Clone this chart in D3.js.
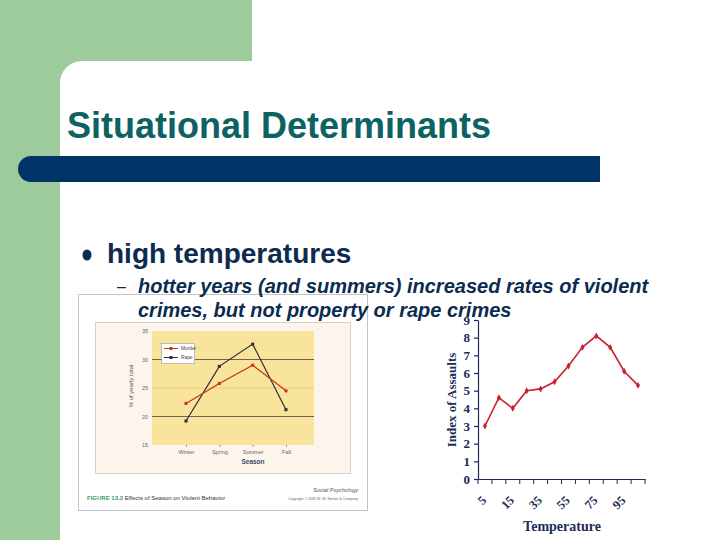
<!DOCTYPE html>
<html lang="en">
<head>
<meta charset="utf-8">
<style>
  body { margin: 0; background: #fff; }
  svg { display: block; }
</style>
</head>
<body>
<script src="https://d3js.org/d3.v7.min.js"></script>
<script>
// left chart: seasons
var seasons = ["Winter", "Spring", "Summer", "Fall"];
var murder = [22.3, 25.8, 29.0, 24.5];
var rape = [19.2, 28.8, 32.7, 21.2];
var seasonTicks = [15, 20, 25, 30, 35];

// right chart: temperature
var tempLabels = ["5", "", "15", "", "35", "", "55", "", "75", "", "95", ""];
var assaults = [3.0, 4.6, 4.0, 5.0, 5.1, 5.5, 6.4, 7.45, 8.1, 7.45, 6.1, 5.3];
var assaultTicks = [0, 1, 2, 3, 4, 5, 6, 7, 8, 9];

var width = 720, height = 540;
var svg = d3.select("body").append("svg")
  .attr("width", width).attr("height", height);

// slide background
svg.append("rect").attr("x", 0).attr("y", 0).attr("width", 252).attr("height", 80).attr("fill", "#9ecb9c");
svg.append("rect").attr("x", 0).attr("y", 0).attr("width", 60).attr("height", height).attr("fill", "#9ecb9c");
svg.append("rect").attr("x", 60).attr("y", 61).attr("width", 700).attr("height", 520)
  .attr("rx", 22).attr("fill", "#fff");
// navy bar
svg.append("rect").attr("x", 18).attr("y", 156).attr("width", 60).attr("height", 26)
  .attr("rx", 13).attr("fill", "#003366");
svg.append("rect").attr("x", 40).attr("y", 156).attr("width", 560).attr("height", 26)
  .attr("fill", "#003366");

// ---------- left chart (figure image) ----------
var L = svg.append("g");
L.append("rect").attr("x", 78.5).attr("y", 294.5).attr("width", 289).attr("height", 216)
  .attr("fill", "#fff").attr("stroke", "#c4c4c4");
L.append("rect").attr("x", 95.5).attr("y", 322.5).attr("width", 255).attr("height", 151)
  .attr("fill", "#fdf5eb").attr("stroke", "#d9cfc2");
L.append("rect").attr("x", 152).attr("y", 331).attr("width", 162).attr("height", 114)
  .attr("fill", "#f9e49c");

var xs = d3.scalePoint().domain(seasons).range([186, 286]);
var ys = d3.scaleLinear().domain([15, 35]).range([445, 331]);

L.selectAll(".grid").data([20, 25, 30]).join("line")
  .attr("x1", 152).attr("x2", 314)
  .attr("y1", function (d) { return ys(d); }).attr("y2", function (d) { return ys(d); })
  .attr("stroke", function (d) { return d == 25 ? "#e3cc80" : "#5c5446"; })
  .attr("stroke-width", 0.9);

var ya = L.append("g").attr("transform", "translate(152,0)")
  .call(d3.axisLeft(ys).tickValues(seasonTicks).tickSize(0).tickPadding(4));
ya.select(".domain").remove();
ya.selectAll("text").attr("font-family", "Liberation Sans").attr("font-size", 5.5).attr("fill", "#666");

var xa = L.append("g").attr("transform", "translate(0,445)")
  .call(d3.axisBottom(xs).tickSize(2).tickPadding(3));
xa.select(".domain").remove();
xa.selectAll("line").attr("stroke", "#999");
xa.selectAll("text").attr("font-family", "Liberation Sans").attr("font-size", 5.5).attr("fill", "#666");

L.append("text").attr("x", 253).attr("y", 464).attr("text-anchor", "middle")
  .attr("font-family", "Liberation Sans").attr("font-weight", "bold").attr("font-size", 6.5)
  .attr("fill", "#3a4a6a").text("Season");
L.append("text").attr("transform", "translate(133,386) rotate(-90)").attr("text-anchor", "middle")
  .attr("font-family", "Liberation Sans").attr("font-size", 6).attr("fill", "#4a5670")
  .text("% of yearly total");

var line = d3.line()
  .x(function (d, i) { return xs(seasons[i]); })
  .y(function (d) { return ys(d); });

[[rape, "#2b2b3a"], [murder, "#c8321e"]].forEach(function (s) {
  L.append("path").datum(s[0]).attr("d", line).attr("fill", "none")
    .attr("stroke", s[1]).attr("stroke-width", 1.2);
  L.selectAll(null).data(s[0]).join("rect")
    .attr("x", function (d, i) { return xs(seasons[i]) - 1.5; })
    .attr("y", function (d) { return ys(d) - 1.5; })
    .attr("width", 3).attr("height", 3).attr("fill", s[1]);
});

// legend
L.append("rect").attr("x", 161.5).attr("y", 343.5).attr("width", 33).attr("height", 20)
  .attr("fill", "#fff").attr("stroke", "#9a9a9a").attr("stroke-width", 0.6);
[["Murder", "#c8321e", 348.5], ["Rape", "#2b2b3a", 357.5]].forEach(function (s) {
  L.append("line").attr("x1", 164).attr("x2", 178).attr("y1", s[2]).attr("y2", s[2])
    .attr("stroke", s[1]).attr("stroke-width", 1);
  L.append("rect").attr("x", 169.5).attr("y", s[2] - 1.5).attr("width", 3).attr("height", 3).attr("fill", s[1]);
  L.append("text").attr("x", 181).attr("y", s[2] + 1.8)
    .attr("font-family", "Liberation Sans").attr("font-size", 4.8).attr("fill", "#444").text(s[0]);
});

// caption
var cap = L.append("text").attr("x", 87).attr("y", 500)
  .attr("font-family", "Liberation Sans").attr("font-size", 6);
cap.append("tspan").attr("fill", "#3c9a62").attr("font-weight", "bold").text("FIGURE 13.2 ");
cap.append("tspan").attr("fill", "#333").text("Effects of Season on Violent Behavior");
L.append("text").attr("x", 358).attr("y", 492).attr("text-anchor", "end")
  .attr("font-family", "Liberation Sans").attr("font-style", "italic").attr("font-size", 5.5)
  .attr("fill", "#555").text("Social Psychology");
L.append("text").attr("x", 358).attr("y", 500).attr("text-anchor", "end")
  .attr("font-family", "Liberation Sans").attr("font-size", 3.6)
  .attr("fill", "#666").text("Copyright \u00A9 2005 W. W. Norton & Company");

// ---------- right chart ----------
var R = svg.append("g");
var navy = "#1c2b55";
var xb = d3.scaleBand().domain(d3.range(assaults.length)).range([478, 645]);
var yb = d3.scaleLinear().domain([0, 9]).range([479, 320]);

var ra = R.append("g").attr("transform", "translate(478,0)")
  .call(d3.axisLeft(yb).tickValues(assaultTicks).tickFormat(d3.format("d")).tickSize(4).tickSizeOuter(0).tickPadding(4));
ra.selectAll("path,line").attr("stroke", navy).attr("stroke-width", 1.2);
ra.selectAll("text").attr("font-family", "Liberation Serif").attr("font-weight", "bold")
  .attr("font-size", 13).attr("fill", navy);

var rb = R.append("g").attr("transform", "translate(0,479)")
  .call(d3.axisBottom(xb).tickSize(0).tickFormat(""));
rb.select(".domain").attr("stroke", navy).attr("stroke-width", 1.2);
rb.selectAll(".tick").remove();
R.selectAll(".xt").data(d3.range(assaults.length + 1)).join("line")
  .attr("x1", function (d) { return 478 + d * xb.step(); })
  .attr("x2", function (d) { return 478 + d * xb.step(); })
  .attr("y1", 479).attr("y2", 484)
  .attr("stroke", navy).attr("stroke-width", 1);
R.selectAll(".xl").data(tempLabels).join("text")
  .attr("transform", function (d, i) {
    return "translate(" + (xb(i) + xb.bandwidth() / 2 - 4) + ",495) rotate(-45)";
  })
  .attr("text-anchor", "end").attr("dy", "0.7em")
  .attr("font-family", "Liberation Serif").attr("font-weight", "bold")
  .attr("font-size", 12.5).attr("fill", navy).text(function (d) { return d; });

R.append("text").attr("x", 562).attr("y", 531).attr("text-anchor", "middle")
  .attr("font-family", "Liberation Serif").attr("font-weight", "bold").attr("font-size", 14)
  .attr("fill", navy).text("Temperature");
R.append("text").attr("transform", "translate(456,400) rotate(-90)").attr("text-anchor", "middle")
  .attr("font-family", "Liberation Serif").attr("font-weight", "bold").attr("font-size", 13)
  .attr("fill", navy).text("Index of Assaults");

var rl = d3.line()
  .x(function (d, i) { return xb(i) + xb.bandwidth() / 2; })
  .y(function (d) { return yb(d); });
R.append("path").datum(assaults).attr("d", rl).attr("fill", "none")
  .attr("stroke", "#c8202e").attr("stroke-width", 1.6);
R.selectAll(".pt").data(assaults).join("path")
  .attr("d", d3.symbol(d3.symbolDiamond, 14))
  .attr("transform", function (d, i) {
    return "translate(" + (xb(i) + xb.bandwidth() / 2) + "," + yb(d) + ")";
  })
  .attr("fill", "#c8202e");

// ---------- slide text ----------
svg.append("text").attr("x", 67).attr("y", 138)
  .attr("font-family", "Liberation Sans").attr("font-weight", "bold").attr("font-size", 36)
  .attr("fill", "#0d6262").text("Situational Determinants");
svg.append("ellipse").attr("cx", 87).attr("cy", 255).attr("rx", 4.5).attr("ry", 5.5).attr("fill", "#0c2b50");
svg.append("text").attr("x", 107).attr("y", 263)
  .attr("font-family", "Liberation Sans").attr("font-weight", "bold").attr("font-size", 28)
  .attr("fill", "#0c2b50").text("high temperatures");
svg.append("text").attr("x", 117).attr("y", 292)
  .attr("font-family", "Liberation Sans").attr("font-size", 16)
  .attr("fill", "#0c2b50").text("\u2013");
var sub = svg.append("text")
  .attr("font-family", "Liberation Sans").attr("font-weight", "bold").attr("font-style", "italic")
  .attr("font-size", 20).attr("fill", "#0c2b50");
sub.append("tspan").attr("x", 138).attr("y", 293).text("hotter years (and summers) increased rates of violent");
sub.append("tspan").attr("x", 138).attr("y", 317).text("crimes, but not property or rape crimes");
</script>
</body>
</html>
